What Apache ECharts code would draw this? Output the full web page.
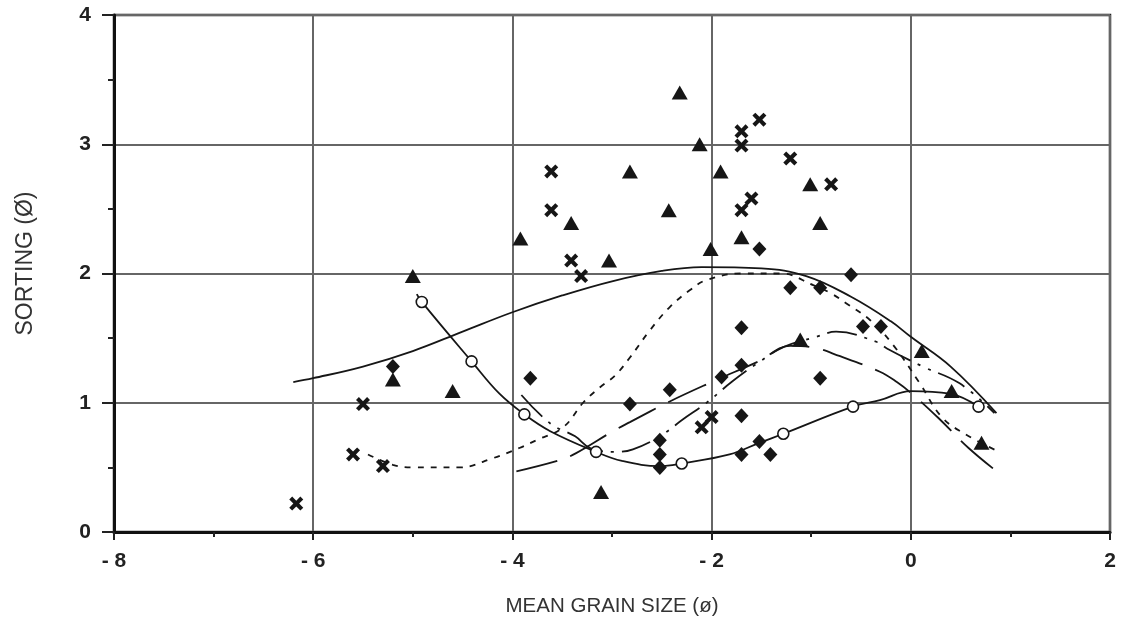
<!DOCTYPE html>
<html>
<head>
<meta charset="utf-8">
<script src="https://cdn.jsdelivr.net/npm/echarts@6/dist/echarts.min.js"></script>
<style>
  html, body { margin: 0; padding: 0; background: #fff; }
  #chart { width: 1127px; height: 631px; }
</style>
</head>
<body>
<div id="chart"></div>
<script>
  // tick values
  var xTicks = [-8, -6, -4, -2, 0, 2];
  var yTicks = [0, 1, 2, 3, 4];

  // sample points (mean grain size, sorting)
  var triangles = [
    [-2.32, 3.40], [-2.12, 3.00], [-2.82, 2.79], [-1.91, 2.79], [-2.43, 2.49],
    [-3.41, 2.39], [-3.92, 2.27], [-3.03, 2.10], [-2.01, 2.19], [-1.70, 2.28],
    [-1.01, 2.69], [-0.91, 2.39], [-5.00, 1.98], [-5.20, 1.18], [-4.60, 1.09],
    [-3.11, 0.31], [-1.11, 1.49], [0.11, 1.40], [0.41, 1.09], [0.71, 0.69]
  ];
  var crosses = [
    [-1.52, 3.19], [-1.70, 3.10], [-1.70, 2.99], [-1.21, 2.89], [-0.80, 2.69],
    [-3.61, 2.79], [-3.61, 2.49], [-1.60, 2.58], [-1.70, 2.49], [-3.41, 2.10],
    [-3.31, 1.98], [-5.50, 0.99], [-5.60, 0.60], [-5.30, 0.51], [-6.17, 0.22],
    [-2.00, 0.89], [-2.10, 0.81]
  ];
  var diamonds = [
    [-1.52, 2.19], [-0.60, 1.99], [-1.21, 1.89], [-0.91, 1.89], [-1.70, 1.58],
    [-0.48, 1.59], [-0.30, 1.59], [-1.70, 1.29], [-1.90, 1.20], [-2.42, 1.10],
    [-2.82, 0.99], [-0.91, 1.19], [-1.70, 0.90], [-2.52, 0.71], [-2.52, 0.60],
    [-2.52, 0.50], [-1.70, 0.60], [-1.52, 0.70], [-1.41, 0.60], [-3.82, 1.19],
    [-5.20, 1.28]
  ];
  var circles = [
    [-4.91, 1.78], [-4.41, 1.32], [-3.88, 0.91], [-3.16, 0.62], [-2.30, 0.53],
    [-1.28, 0.76], [-0.58, 0.97], [0.68, 0.97]
  ];

  // fitted curves
  var curveSolid = [
    [-6.2, 1.16], [-6.0, 1.19], [-5.5, 1.28], [-5.0, 1.40], [-4.5, 1.55], [-4.0, 1.70],
    [-3.5, 1.83], [-3.0, 1.94], [-2.5, 2.02], [-2.1, 2.05], [-1.5, 2.04], [-1.05, 1.98],
    [-0.6, 1.82], [-0.2, 1.63], [0.0, 1.51], [0.4, 1.28], [0.86, 0.92]
  ];
  var curveCircles = [
    [-4.96, 1.84], [-4.91, 1.78], [-4.41, 1.32], [-4.13, 1.07], [-3.88, 0.91], [-3.62, 0.78],
    [-3.16, 0.62], [-2.9, 0.55], [-2.52, 0.51], [-2.30, 0.53], [-1.82, 0.60], [-1.52, 0.69],
    [-1.28, 0.76], [-0.58, 0.97], [-0.31, 1.02], [0.0, 1.09], [0.39, 1.07], [0.68, 0.97]
  ];
  var curveShortDash = [
    [-5.45, 0.60], [-5.2, 0.52], [-5.0, 0.50], [-4.53, 0.50], [-4.2, 0.57], [-3.93, 0.65],
    [-3.76, 0.71], [-3.49, 0.81], [-3.29, 1.00], [-3.12, 1.12], [-2.97, 1.21], [-2.82, 1.35],
    [-2.62, 1.56], [-2.42, 1.74], [-2.22, 1.87], [-2.05, 1.95], [-1.7, 2.00], [-1.3, 2.00],
    [-0.98, 1.91], [-0.81, 1.85], [-0.65, 1.77], [-0.41, 1.64], [-0.18, 1.45], [0.09, 1.15],
    [0.31, 0.89], [0.54, 0.76], [0.86, 0.63]
  ];
  var curveDashDot = [
    [-3.91, 1.06], [-3.62, 0.84], [-3.37, 0.74], [-3.22, 0.65], [-2.97, 0.62], [-2.79, 0.64],
    [-2.52, 0.74], [-2.29, 0.87], [-2.05, 1.00], [-1.80, 1.16], [-1.55, 1.30], [-1.28, 1.43],
    [-0.95, 1.51], [-0.75, 1.55], [-0.34, 1.47], [-0.24, 1.42], [0.12, 1.28], [0.49, 1.15],
    [0.84, 0.92]
  ];
  var curveLongDash = [
    [-3.96, 0.47], [-3.51, 0.56], [-3.36, 0.61], [-2.99, 0.78], [-2.82, 0.85], [-2.42, 1.01],
    [-2.0, 1.16], [-1.53, 1.32], [-1.21, 1.44], [-1.0, 1.43], [-0.71, 1.36], [-0.31, 1.24],
    [-0.14, 1.16], [0.01, 1.07], [0.28, 0.88], [0.58, 0.65], [0.91, 0.44]
  ];

  var ink = '#161616';
  var font = 'Liberation Sans, Arial, Helvetica, sans-serif';
  var crossPath = 'path://M0,2.5 L2.5,0 L6,3.5 L9.5,0 L12,2.5 L8.5,6 L12,9.5 L9.5,12 L6,8.5 L2.5,12 L0,9.5 L3.5,6 Z';

  function curve(data, type) {
    return {
      type: 'line',
      data: data,
      symbol: 'none',
      smooth: 0.4,
      silent: true,
      z: 2,
      lineStyle: { color: ink, width: 1.8, type: type }
    };
  }
  function points(data, symbol, size, style) {
    return {
      type: 'scatter',
      data: data,
      symbol: symbol,
      symbolSize: size,
      z: 3,
      itemStyle: style || { color: ink, opacity: 1 }
    };
  }

  var myChart = echarts.init(document.getElementById('chart'));
  myChart.setOption({
    animation: false,
    grid: {
      left: 114, right: 17, top: 15, bottom: 99,
      show: true, borderColor: '#222', borderWidth: 2.5
    },
    xAxis: {
      type: 'value',
      min: xTicks[0],
      max: xTicks[xTicks.length - 1],
      interval: 2,
      name: 'MEAN GRAIN SIZE (ø)',
      nameLocation: 'middle',
      nameGap: 64,
      nameTextStyle: { fontFamily: font, fontSize: 20.5, color: '#333' },
      axisLine: { onZero: false, lineStyle: { color: '#111', width: 3 } },
      axisTick: { length: 8, lineStyle: { color: '#222', width: 2 } },
      minorTick: { show: true, splitNumber: 2, length: 5, lineStyle: { color: '#222', width: 2 } },
      splitLine: { lineStyle: { color: '#666', width: 2 } },
      axisLabel: {
        margin: 19,
        fontFamily: font, fontSize: 21, fontWeight: 'bold', color: '#222',
        formatter: function (v) { return v < 0 ? '- ' + Math.abs(v) : String(v); }
      }
    },
    yAxis: {
      type: 'value',
      min: yTicks[0],
      max: yTicks[yTicks.length - 1],
      interval: 1,
      name: 'SORTING (Ø)',
      nameLocation: 'middle',
      nameGap: 77,
      nameTextStyle: { fontFamily: font, fontSize: 23, color: '#333', padding: [0, 0, 0, 20] },
      axisLine: { onZero: false, lineStyle: { color: '#111', width: 3 } },
      axisTick: { length: 12, lineStyle: { color: '#222', width: 2 } },
      minorTick: { show: true, splitNumber: 2, length: 6, lineStyle: { color: '#222', width: 2 } },
      splitLine: { lineStyle: { color: '#666', width: 2 } },
      axisLabel: {
        margin: 23,
        fontFamily: font, fontSize: 21, fontWeight: 'bold', color: '#222'
      }
    },
    series: [
      curve(curveSolid, 'solid'),
      curve(curveCircles, 'solid'),
      curve(curveShortDash, [6, 7]),
      curve(curveDashDot, [30, 8, 3, 8, 3, 8]),
      curve(curveLongDash, [42, 14]),
      points(triangles, 'triangle', [16, 14]),
      points(crosses, crossPath, [14, 14]),
      points(diamonds, 'diamond', [14, 15]),
      points(circles, 'circle', 11, { color: '#fff', borderColor: ink, borderWidth: 1.6, opacity: 1 })
    ]
  });
</script>
</body>
</html>
